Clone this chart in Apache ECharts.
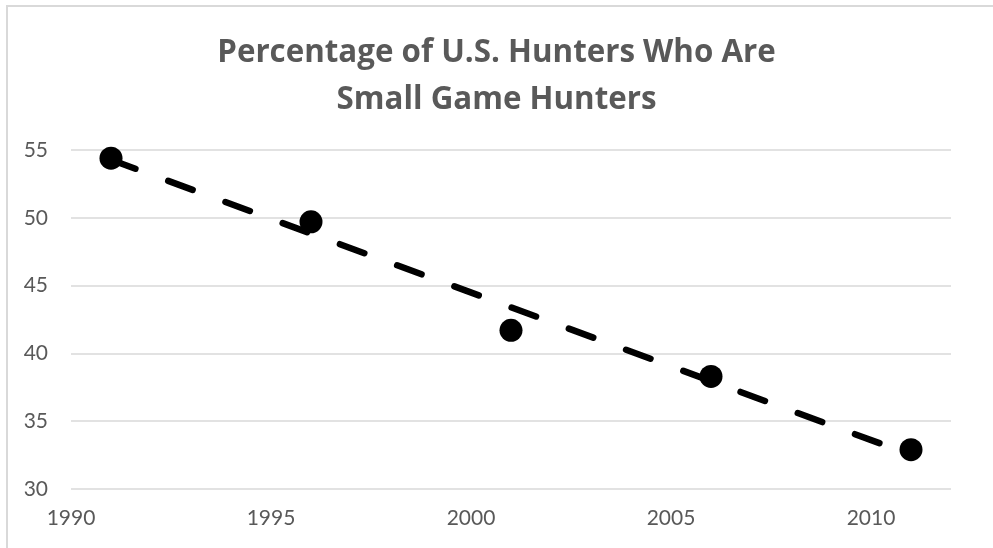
<!DOCTYPE html>
<html>
<head>
<meta charset="utf-8">
<script src="https://cdn.jsdelivr.net/npm/echarts@6/dist/echarts.min.js"></script>
<style>
  html, body { margin: 0; padding: 0; background: #fff; }
  #chart { width: 993px; height: 548px; }
</style>
</head>
<body>
<div id="chart"></div>
<script>
// Survey years and the share of hunters who hunt small game (%)
const years = [1991, 1996, 2001, 2006, 2011];
const pct = [54.4, 49.7, 41.7, 38.3, 32.9];

const titleLines = ['Percentage of U.S. Hunters Who Are', 'Small Game Hunters'];
const yTicks = { min: 30, max: 55, step: 5 };
const xTicks = { min: 1990, max: 2012, step: 5 };

// Least-squares linear trend through the observed points
function linearFit(xs, ys) {
  const n = xs.length;
  const mx = xs.reduce((a, b) => a + b, 0) / n;
  const my = ys.reduce((a, b) => a + b, 0) / n;
  let sxy = 0, sxx = 0;
  for (let i = 0; i < n; i++) {
    sxy += (xs[i] - mx) * (ys[i] - my);
    sxx += (xs[i] - mx) * (xs[i] - mx);
  }
  const slope = sxy / sxx;
  return x => my + slope * (x - mx);
}
const trend = linearFit(years, pct);
const trendPoints = [years[0], years[years.length - 1]].map(x => [x, trend(x)]);

const textColor = '#595959';
const gridColor = '#d9d9d9';
const labelFont = 'Lato, "Open Sans", sans-serif';
const titleFont = '"Open Sans", Lato, sans-serif';

const chart = echarts.init(document.getElementById('chart'), null, { renderer: 'canvas' });
chart.setOption({
  backgroundColor: '#ffffff',
  animation: false,
  title: {
    text: titleLines.join('\n'),
    left: 'center',
    top: 25,
    textStyle: {
      color: textColor,
      fontFamily: titleFont,
      fontWeight: 'bold',
      fontSize: 31.3,
      lineHeight: 47
    }
  },
  graphic: [{
    type: 'rect',
    shape: { x: 7, y: 6, width: 1100, height: 700 },
    style: { fill: 'none', stroke: gridColor, lineWidth: 2 },
    silent: true,
    z: -1
  }],
  grid: { left: 71, right: 42, top: 150, bottom: 59 },
  xAxis: {
    type: 'value',
    min: xTicks.min,
    max: xTicks.max,
    interval: xTicks.step,
    axisLine: { show: false },
    axisTick: { show: false },
    splitLine: { show: false },
    axisLabel: {
      color: textColor,
      fontFamily: labelFont,
      fontSize: 21,
      margin: 19,
      showMaxLabel: false,
      formatter: v => String(v)
    }
  },
  yAxis: {
    type: 'value',
    min: yTicks.min,
    max: yTicks.max,
    interval: yTicks.step,
    axisLine: { show: false },
    axisTick: { show: false },
    splitLine: { show: true, lineStyle: { color: gridColor, width: 1.5 } },
    axisLabel: {
      color: textColor,
      fontFamily: labelFont,
      fontSize: 21,
      margin: 23
    }
  },
  series: [
    {
      name: 'Trend',
      type: 'line',
      data: trendPoints,
      showSymbol: false,
      symbol: 'none',
      z: 2,
      lineStyle: {
        color: '#000',
        width: 6.5,
        type: [26, 35],
        cap: 'round'
      }
    },
    {
      name: 'Small game hunters',
      type: 'scatter',
      data: years.map((y, i) => [y, pct[i]]),
      symbol: 'circle',
      symbolSize: 23,
      z: 3,
      itemStyle: { color: '#000', opacity: 1 }
    }
  ]
});
</script>
</body>
</html>
